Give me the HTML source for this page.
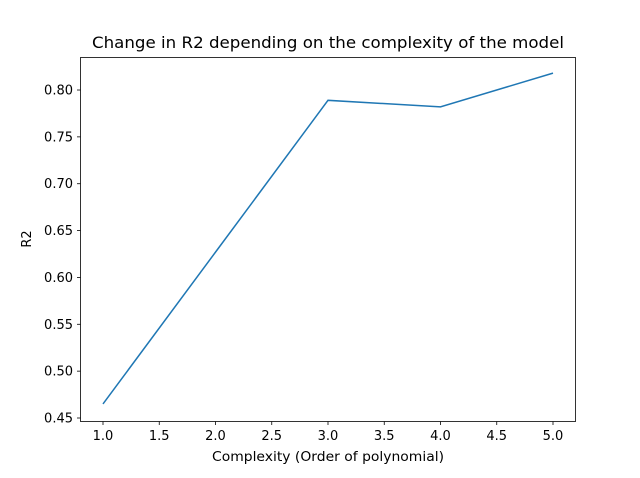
<!DOCTYPE html>
<html><head><meta charset="utf-8"><style>
body{margin:0;background:#fff;}
svg text{font-family:"DejaVu Sans","Liberation Sans",sans-serif;fill:#000;}
</style></head><body>
<svg id="chart" width="640" height="473" xmlns="http://www.w3.org/2000/svg">
<rect width="640" height="473" fill="#fff"/>
<text x="328" y="48" font-size="15.6" text-anchor="middle" textLength="472" lengthAdjust="spacingAndGlyphs">Change in R2 depending on the complexity of the model</text>
<g id="ticks"></g>
<path id="line" fill="none" stroke="#1f77b4" stroke-width="1.5"/>
<rect x="80.5" y="57.5" width="495" height="364" fill="none" stroke="#000" stroke-width="0.8"/>
<text x="328" y="461" font-size="13" text-anchor="middle" textLength="232" lengthAdjust="spacingAndGlyphs">Complexity (Order of polynomial)</text>
<text x="0" y="0" font-size="13" text-anchor="middle" transform="translate(31,239) rotate(-90)">R2</text>
</svg>
<script>
const complexity=[1,2,3,4,5];
const r2=[0.465,0.627,0.789,0.782,0.818];
const xTicks=[1.0,1.5,2.0,2.5,3.0,3.5,4.0,4.5,5.0];
const yTicks=[0.45,0.50,0.55,0.60,0.65,0.70,0.75,0.80];
const sx=v=>103+(v-1)*112.5;
const sy=v=>418-(v-0.45)*937.1;
const ns="http://www.w3.org/2000/svg";
const g=document.getElementById('ticks');
xTicks.forEach(t=>{
  const l=document.createElementNS(ns,'line');
  
  
  l.setAttribute('x1',sx(t));l.setAttribute('x2',sx(t));l.setAttribute('y1',421.5);l.setAttribute('y2',425);
  l.setAttribute('stroke','#000');l.setAttribute('stroke-width','0.8');g.appendChild(l);
  const tx=document.createElementNS(ns,'text');
  
  
  tx.setAttribute('x',sx(t));tx.setAttribute('y',440);tx.setAttribute('font-size','13');tx.setAttribute('text-anchor','middle');
  tx.textContent=t.toFixed(1);g.appendChild(tx);
});
yTicks.forEach(t=>{
  const l=document.createElementNS(ns,'line');
  
  
  l.setAttribute('x1',77);l.setAttribute('x2',80.5);l.setAttribute('y1',sy(t));l.setAttribute('y2',sy(t));
  l.setAttribute('stroke','#000');l.setAttribute('stroke-width','0.8');g.appendChild(l);
  const tx=document.createElementNS(ns,'text');
  
  
  tx.setAttribute('x',73);tx.setAttribute('y',sy(t)+4.5);tx.setAttribute('font-size','13');tx.setAttribute('text-anchor','end');
  tx.textContent=t.toFixed(2);g.appendChild(tx);
});
document.getElementById('line').setAttribute('d',complexity.map((c,i)=>(i?'L':'M')+sx(c)+','+sy(r2[i])).join(' '));
</script>
</body></html>
